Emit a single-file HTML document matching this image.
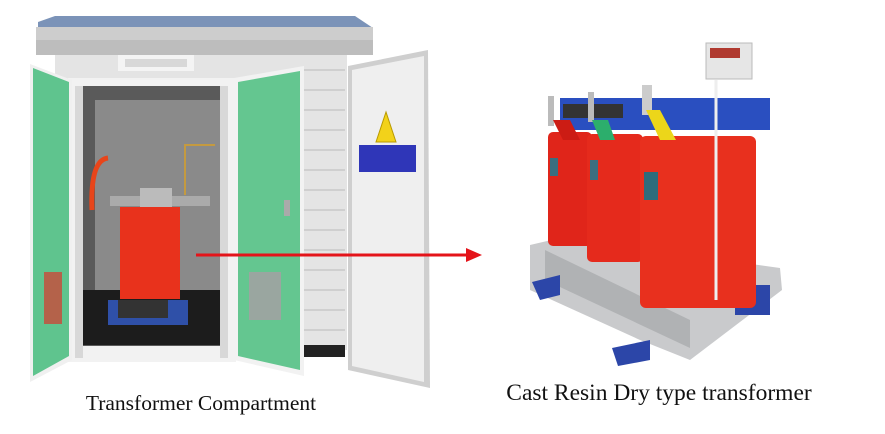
<!DOCTYPE html>
<html><head><meta charset="utf-8"><style>
html,body{margin:0;padding:0;background:#fff;width:885px;height:434px;overflow:hidden}
svg{display:block}
</style></head><body>
<svg width="885" height="434" viewBox="0 0 885 434" xmlns="http://www.w3.org/2000/svg">
<!-- Kiosk -->
<rect x="55" y="50" width="292" height="300" fill="#e4e4e4"/>
<g stroke="#c8c8c8" stroke-width="1.5">
<line x1="300" y1="70" x2="345" y2="70"/><line x1="300" y1="90" x2="345" y2="90"/><line x1="300" y1="110" x2="345" y2="110"/>
<line x1="300" y1="130" x2="345" y2="130"/><line x1="300" y1="150" x2="345" y2="150"/><line x1="300" y1="170" x2="345" y2="170"/>
<line x1="300" y1="190" x2="345" y2="190"/><line x1="300" y1="210" x2="345" y2="210"/><line x1="300" y1="230" x2="345" y2="230"/>
<line x1="300" y1="250" x2="345" y2="250"/><line x1="300" y1="270" x2="345" y2="270"/><line x1="300" y1="290" x2="345" y2="290"/>
<line x1="300" y1="310" x2="345" y2="310"/><line x1="300" y1="330" x2="345" y2="330"/>
</g>
<rect x="70" y="345" width="275" height="12" fill="#222"/>
<!-- roof -->
<polygon points="38,22 55,16 355,16 373,28 373,32 38,32" fill="#7b93b8"/>
<rect x="36" y="27" width="337" height="28" fill="#cdcdcd"/>
<rect x="36" y="40" width="337" height="15" fill="#bdbdbd"/>
<rect x="118" y="55" width="76" height="16" fill="#f4f4f4"/>
<rect x="125" y="59" width="62" height="8" fill="#d8d8d8"/>
<!-- door frame + interior -->
<rect x="68" y="78" width="168" height="284" fill="#f2f2f2"/>
<rect x="80" y="86" width="146" height="260" fill="#5a5a5a"/>
<rect x="95" y="100" width="125" height="190" fill="#8a8a8a"/>
<rect x="80" y="290" width="146" height="55" fill="#1c1c1c"/>
<rect x="75" y="86" width="8" height="272" fill="#d8d8d8"/>
<rect x="220" y="86" width="8" height="272" fill="#d8d8d8"/>
<!-- inner transformer -->
<rect x="110" y="196" width="100" height="10" fill="#aaa"/>
<rect x="140" y="188" width="32" height="22" fill="#bbb"/>
<rect x="120" y="207" width="60" height="92" fill="#e8321c"/>
<rect x="108" y="300" width="80" height="25" fill="#2f50a8"/>
<rect x="118" y="300" width="50" height="18" fill="#333"/>
<path d="M92 210 Q90 160 108 158" stroke="#e8451a" stroke-width="5" fill="none"/>
<path d="M185 195 L185 145 L215 145" stroke="#c49a40" stroke-width="2" fill="none"/>
<!-- left green door -->
<polygon points="30,64 72,80 72,360 30,382" fill="#f0f0f0"/>
<polygon points="33,68 69,82 69,356 33,376" fill="#5fc48e"/>
<rect x="44" y="272" width="18" height="52" fill="#c94a3a" opacity=".8"/>
<!-- right green door -->
<polygon points="234,78 304,66 304,376 234,360" fill="#f2f2f2"/>
<polygon points="238,82 300,71 300,370 238,356" fill="#64c690"/>
<rect x="249" y="272" width="32" height="48" fill="#9aa6a0"/>
<rect x="284" y="200" width="6" height="16" fill="#aaa"/>
<!-- right gray door -->
<polygon points="348,66 428,50 430,388 348,370" fill="#cfcfcf"/>
<polygon points="352,70 424,56 424,382 352,366" fill="#efefef"/>
<polygon points="386,112 376,142 396,142" fill="#f2d21a" stroke="#b99a00" stroke-width="1"/>
<rect x="359" y="145" width="57" height="27" fill="#2f36b8"/>
<!-- arrow -->
<line x1="196" y1="255" x2="470" y2="255" stroke="#e4141a" stroke-width="3"/>
<polygon points="466,248 482,255 466,262" fill="#e4141a"/>
<!-- Right transformer -->
<polygon points="530,245 560,238 780,268 782,290 690,360 640,340 530,290" fill="#c9cacc"/>
<polygon points="545,250 690,320 690,348 545,280" fill="#b0b2b4"/>
<polygon points="532,282 560,275 560,295 540,300" fill="#2c46a8"/>
<polygon points="612,348 650,340 650,360 618,366" fill="#2c46a8"/>
<polygon points="735,285 770,285 770,315 735,315" fill="#2c46a8"/>
<rect x="560" y="98" width="210" height="32" fill="#2a4fc0"/>
<rect x="563" y="104" width="60" height="14" fill="#333"/>
<rect x="548" y="132" width="44" height="114" rx="5" fill="#e0251a"/>
<rect x="587" y="134" width="56" height="128" rx="5" fill="#e52a1c"/>
<rect x="640" y="136" width="116" height="172" rx="6" fill="#e8301e"/>
<rect x="550" y="158" width="8" height="18" fill="#3a6e80"/>
<rect x="590" y="160" width="8" height="20" fill="#3a6e80"/>
<rect x="644" y="172" width="14" height="28" fill="#2e6c7c"/>
<rect x="548" y="96" width="6" height="30" fill="#bbb"/>
<rect x="588" y="92" width="6" height="30" fill="#bbb"/>
<rect x="642" y="85" width="10" height="30" fill="#ccc"/>
<polygon points="553,120 570,120 580,140 563,140" fill="#cc1c14"/>
<polygon points="592,120 608,120 615,140 600,140" fill="#2cae6c"/>
<polygon points="646,110 660,110 676,140 660,140" fill="#ecd61a"/>
<rect x="706" y="43" width="46" height="36" fill="#e6e6e6" stroke="#bbb"/>
<rect x="710" y="48" width="30" height="10" fill="#b03a30"/>
<line x1="716" y1="80" x2="716" y2="300" stroke="#eee" stroke-width="3"/>
<!-- labels -->
<text x="201" y="410" font-family="Liberation Serif, serif" font-size="21.5" text-anchor="middle" fill="#111">Transformer Compartment</text>
<text x="659" y="400" font-family="Liberation Serif, serif" font-size="23.5" text-anchor="middle" fill="#111">Cast Resin Dry type transformer</text>
</svg>
</body></html>
